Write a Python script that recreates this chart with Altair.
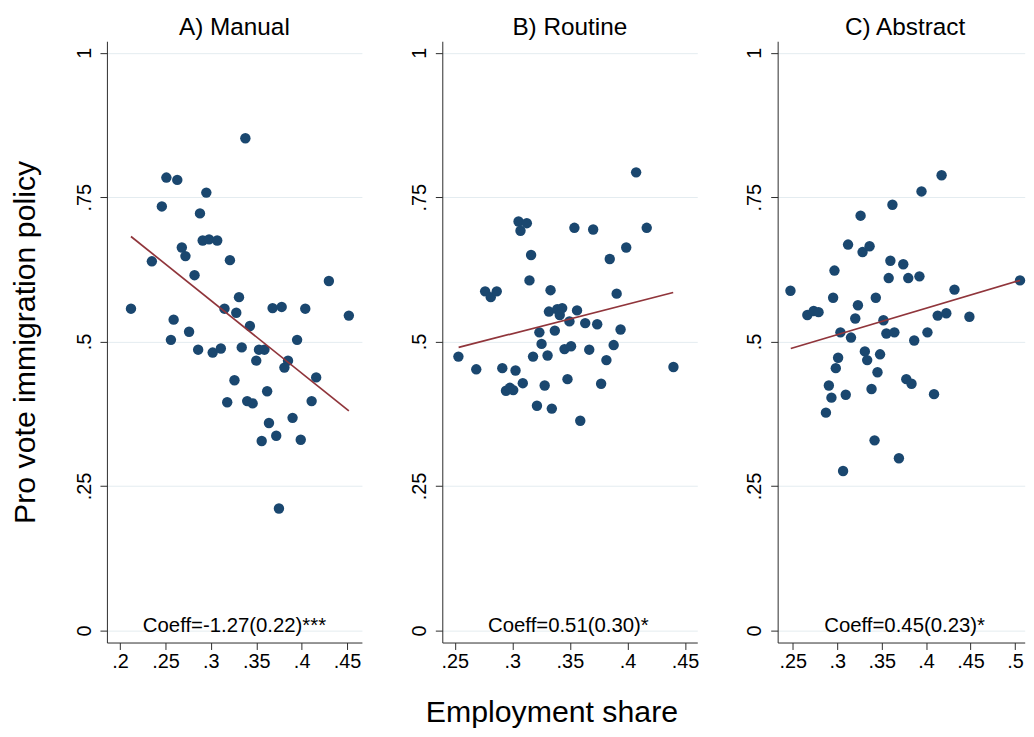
import altair as alt
import pandas as pd

FONT = "Liberation Sans"
NAVY = "#1a476f"
MAROON = "#90353b"
AXIS_COL = "#2b2b2b"
GRID_COL = "#e4ecf0"

# ---------------- data ----------------
titles = ["A) Manual", "B) Routine", "C) Abstract"]
coeffs = ["Coeff=-1.27(0.22)***", "Coeff=0.51(0.30)*", "Coeff=0.45(0.23)*"]
y_ticks = [0, 0.25, 0.5, 0.75, 1]

a_x = [0.212, 0.235, 0.246, 0.251, 0.263, 0.256, 0.259, 0.268, 0.272, 0.282,
       0.276, 0.286, 0.288, 0.295, 0.291, 0.298, 0.307, 0.302, 0.311, 0.315,
       0.321, 0.318, 0.326, 0.328, 0.331, 0.334, 0.338, 0.340, 0.343, 0.346,
       0.350, 0.353, 0.359, 0.356, 0.362, 0.364, 0.368, 0.372, 0.378, 0.375,
       0.381, 0.385, 0.390, 0.395, 0.399, 0.404, 0.411, 0.416, 0.430, 0.452]
a_y = [0.557, 0.639, 0.734, 0.784, 0.780, 0.503, 0.538, 0.663, 0.648, 0.615,
       0.517, 0.486, 0.722, 0.758, 0.675, 0.677, 0.675, 0.481, 0.488, 0.557,
       0.641, 0.395, 0.433, 0.550, 0.577, 0.490, 0.852, 0.397, 0.527, 0.393,
       0.467, 0.486, 0.486, 0.328, 0.414, 0.359, 0.558, 0.337, 0.560, 0.211,
       0.455, 0.467, 0.368, 0.503, 0.330, 0.557, 0.397, 0.438, 0.605, 0.545]
a_line_x = [0.212, 0.452]
a_line_y = [0.682, 0.380]
a_xticks = [0.2, 0.25, 0.3, 0.35, 0.4, 0.45]

b_x = [0.4075, 0.3054, 0.3126, 0.3071, 0.3539, 0.3702, 0.4167, 0.3989, 0.3163, 0.3846,
       0.3149, 0.2764, 0.2813, 0.2865, 0.3332, 0.3906, 0.3318, 0.3390, 0.3433, 0.3412,
       0.3562, 0.3496, 0.3633, 0.3737, 0.3940, 0.3235, 0.3369, 0.3254, 0.3453, 0.3510,
       0.3668, 0.3880, 0.3817, 0.2532, 0.3180, 0.3306, 0.2687, 0.2913, 0.3028, 0.4399,
       0.3091, 0.3281, 0.3479, 0.3771, 0.2945, 0.2979, 0.3008, 0.3214, 0.3343, 0.3590]
b_y = [0.793, 0.708, 0.705, 0.692, 0.697, 0.694, 0.697, 0.663, 0.650, 0.643,
       0.606, 0.587, 0.577, 0.587, 0.589, 0.583, 0.552, 0.556, 0.558, 0.546,
       0.554, 0.535, 0.532, 0.530, 0.521, 0.516, 0.519, 0.496, 0.487, 0.492,
       0.486, 0.494, 0.468, 0.474, 0.474, 0.476, 0.452, 0.454, 0.450, 0.456,
       0.428, 0.424, 0.435, 0.427, 0.415, 0.420, 0.416, 0.389, 0.384, 0.363]
b_line_x = [0.2534, 0.4397]
b_line_y = [0.490, 0.585]
b_xticks = [0.25, 0.3, 0.35, 0.4, 0.45]

c_x = [0.4174, 0.3948, 0.3621, 0.3263, 0.3122, 0.3285, 0.3364, 0.3598, 0.3743, 0.2969,
       0.3579, 0.3799, 0.3925, 0.2474, 0.4319, 0.5056, 0.2954, 0.3434, 0.3233, 0.2664,
       0.2735, 0.2790, 0.3203, 0.3520, 0.4130, 0.4227, 0.4487, 0.3036, 0.3155, 0.3553,
       0.3643, 0.4015, 0.3866, 0.3010, 0.2984, 0.3311, 0.3337, 0.3482, 0.3453, 0.3777,
       0.3836, 0.2906, 0.2935, 0.3096, 0.3386, 0.4089, 0.2873, 0.3420, 0.3694, 0.3066]
c_y = [0.788, 0.760, 0.737, 0.718, 0.668, 0.655, 0.665, 0.640, 0.634, 0.623,
       0.610, 0.610, 0.613, 0.588, 0.590, 0.606, 0.576, 0.576, 0.563, 0.546,
       0.553, 0.551, 0.540, 0.537, 0.545, 0.549, 0.543, 0.516, 0.507, 0.514,
       0.516, 0.516, 0.502, 0.472, 0.454, 0.483, 0.468, 0.478, 0.447, 0.435,
       0.427, 0.424, 0.403, 0.408, 0.418, 0.409, 0.377, 0.329, 0.298, 0.276]
c_line_x = [0.2478, 0.5056]
c_line_y = [0.488, 0.606]
c_xticks = [0.25, 0.3, 0.35, 0.4, 0.45, 0.5]

# ---------------- layout ----------------
Y_DOMAIN = [-0.021, 1.02]
PLOT_H = 606


def panel(xs, ys, lx, ly, title, coeff, xdom, xticks, width, text_x,
          ytitle=False, xtitle=False, title_dx=0):
    pts = pd.DataFrame({"x": xs, "y": ys})
    ldf = pd.DataFrame({"x": lx, "y": ly})
    tdf = pd.DataFrame({"x": [text_x], "y": [0.0], "t": [coeff]})

    xaxis_kw = dict(values=xticks, grid=False,
                    labelExpr="slice(format(datum.value, '.2~f'), 1)")
    if xtitle:
        xaxis_kw.update(title="Employment share", titleX=110, titleY=80,
                        titleAlign="center", titleBaseline="alphabetic",
                        titleFontSize=30.5)
    else:
        xaxis_kw.update(title=None)

    yaxis_kw = dict(values=y_ticks, grid=True,
                    labelExpr="datum.value == 0 ? '0' : datum.value == 1 ? '1' : slice(format(datum.value, '.2~f'), 1)")
    if ytitle:
        yaxis_kw.update(title="Pro vote immigration policy", titleX=-73, titleY=PLOT_H / 2,
                        titleAngle=270, titleAlign="center", titleBaseline="alphabetic",
                        titleFontSize=30.5)
    else:
        yaxis_kw.update(title=None)

    x_enc = alt.X("x:Q", scale=alt.Scale(domain=xdom, nice=False, zero=False),
                  axis=alt.Axis(**xaxis_kw))
    y_enc = alt.Y("y:Q", scale=alt.Scale(domain=Y_DOMAIN, nice=False, zero=False),
                  axis=alt.Axis(**yaxis_kw))

    points = alt.Chart(pts).mark_circle(size=110, color=NAVY, opacity=1).encode(x=x_enc, y=y_enc)
    line = alt.Chart(ldf).mark_line(color=MAROON, strokeWidth=1.7).encode(x="x:Q", y="y:Q")
    text = alt.Chart(tdf).mark_text(font=FONT, fontSize=20.5, color="#000000",
                                    align="center", baseline="alphabetic", dy=1.5).encode(
        x="x:Q", y="y:Q", text="t:N")

    return alt.layer(points, line, text).properties(
        width=width, height=PLOT_H,
        title=alt.TitleParams(title, font=FONT, fontSize=24.5, fontWeight="normal",
                              color="#000000", anchor="middle", frame="group",
                              baseline="bottom", offset=-23, dx=title_dx),
    )


pa = panel(a_x, a_y, a_line_x, a_line_y, titles[0], coeffs[0],
           [0.1855, 0.4664], a_xticks, 257, 0.326, ytitle=True)
pb = panel(b_x, b_y, b_line_x, b_line_y, titles[1], coeffs[1],
           [0.2392, 0.4606], b_xticks, 257, 0.3487, xtitle=True)
pc = panel(c_x, c_y, c_line_x, c_line_y, titles[2], coeffs[2],
           [0.233, 0.5109], c_xticks, 249, 0.3758, title_dx=4)

chart = alt.hconcat(pa, pb, pc, spacing=81, bounds="flush").properties(
    autosize=alt.AutoSizeParams(type="none"),
    padding={"left": 99.7, "top": 28.3, "right": 926.3, "bottom": 692.7},
    background="white",
).configure_axis(
    labelFont=FONT, titleFont=FONT, labelFontSize=20, labelColor="#000000",
    titleColor="#000000", titleFontWeight="normal",
    domainColor=AXIS_COL, tickColor=AXIS_COL, domainWidth=1, tickWidth=1,
    tickSize=7, gridColor=GRID_COL, gridWidth=1,
).configure_axisX(
    labelPadding=2, labelBaseline="top",
).configure_axisY(
    labelAngle=270, labelAlign="center", labelBaseline="alphabetic", labelPadding=10,
).configure_view(stroke=None)

chart.save("out.html", embed_options={"renderer": "svg", "actions": False})
